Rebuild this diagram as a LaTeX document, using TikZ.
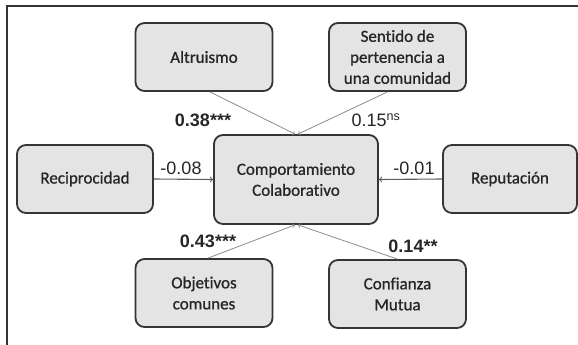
\documentclass[tikz,border=0pt]{standalone}
\usepackage{fontspec}
\usepackage{xcolor}
\setmainfont{Carlito}[Ligatures={NoCommon}, FakeBold=0.9, BoldFont=Carlito]
\newfontfamily\coeffont{Liberation Sans}
\usetikzlibrary{positioning}
\definecolor{BoxFill}{HTML}{E4E4E4}
\definecolor{BoxLine}{HTML}{353535}
\definecolor{LinkLine}{HTML}{8C8C8C}

\begin{document}
\begin{tikzpicture}[x=1pt, y=1pt,
    box/.style={draw=BoxLine, line width=1.8pt, fill=BoxFill, rounded corners=9pt, align=center,
      text=black!85, inner sep=0pt, minimum width=137pt, minimum height=68pt,
      font=\fontsize{17}{21}\selectfont\bfseries},
    coef/.style={font=\coeffont\fontsize{18}{21}\selectfont, text=black!85},
    link/.style={->, draw=LinkLine, line width=0.8pt}]
    \useasboundingbox (0,0) rectangle (578,-345);
    \draw[BoxLine, line width=1.6pt] (7,-345) -- (7,-6) -- (578,-6);

    \node[box, minimum width=164pt, minimum height=89pt] (comp) at (296,-179.5) {Comportamiento\\Colaborativo};
    \node[box] (altru) at (204,-57) {Altruismo};
    \node[box] (sentido) at (397.5,-57) {Sentido de\\pertenencia a\\una comunidad};
    \node[box, minimum width=136pt] (recip) at (85,-179) {Reciprocidad};
    \node[box, minimum width=134pt] (reput) at (510,-179) {Reputación};
    \node[box] (objet) at (204,-293) {Objetivos\\comunes};
    \node[box] (confi) at (397.5,-294) {Confianza\\Mutua};

    \node[coef] (c-altru) at (203,-120) {\textbf{0.38***}};
    \node[coef] (c-sentido) at (376,-120) {0.15\textsuperscript{ns}};
    \node[coef] (c-recip) at (181,-168) {-0.08};
    \node[coef] (c-reput) at (414,-168) {-0.01};
    \node[coef] (c-objet) at (208,-241) {\textbf{0.43***}};
    \node[coef] (c-confi) at (413,-246) {\textbf{0.14**}};

    \draw[link] ([xshift=6pt]altru.south) -- ([xshift=-1pt]comp.north);
    \draw[link] ([xshift=-10pt]sentido.south) -- ([xshift=2pt]comp.north);
    \draw[link, line width=1.1pt, draw=BoxLine!80] (recip.east) -- (comp.west);
    \draw[link, line width=1.1pt, draw=BoxLine!80] (reput.west) -- (comp.east);
    \draw[link] ([xshift=4pt]objet.north) -- ([xshift=-1pt]comp.south);
    \draw[link] (confi.north) -- ([xshift=2pt]comp.south);
  \end{tikzpicture}
\end{document}
